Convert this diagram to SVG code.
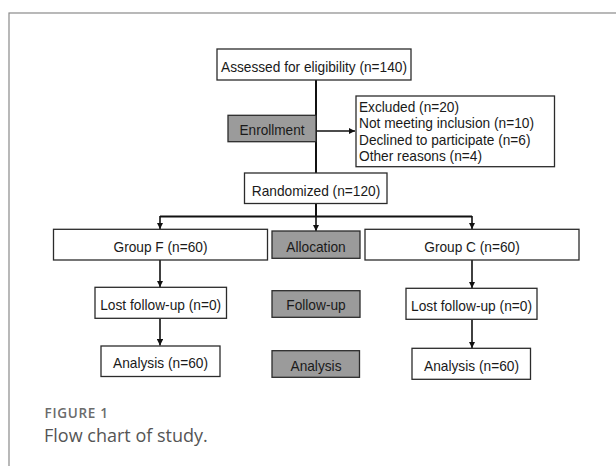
<svg xmlns="http://www.w3.org/2000/svg" width="616" height="466" viewBox="0 0 616 466">
<defs>
<style>
.box{fill:#fff;stroke:#2b2b2b;stroke-width:1.3}
.gray{fill:#9b9b9b;stroke:#2b2b2b;stroke-width:1.3}
.t{font-family:"Liberation Sans",Arial,sans-serif;font-size:14.5px;fill:#1a1a1a;text-anchor:middle}
.tl{font-family:"Liberation Sans",Arial,sans-serif;font-size:14.5px;fill:#1a1a1a}
.ln{fill:none;stroke:#111;stroke-width:2}
.ar{fill:none;stroke:#111;stroke-width:1.6}
</style>
<marker id="ah" viewBox="0 0 10 10" refX="10" refY="5" markerWidth="4" markerHeight="4" orient="auto" markerUnits="strokeWidth">
<path d="M0,0 L10,5 L0,10 z" fill="#111"/>
</marker>
</defs>
<rect x="0" y="0" width="616" height="466" fill="#fff"/>
<rect x="9" y="13" width="640" height="500" fill="none" stroke="#8a8a8a" stroke-width="1.2"/>

<g id="connectors">
<path class="ln" d="M316,80 V173"/>
<path class="ar" d="M316,131 H355" marker-end="url(#ah)"/>
<path class="ln" d="M316,203.5 V216.5 M160,216.5 H472"/>
<path class="ar" d="M160,216 V229" marker-end="url(#ah)"/>
<path class="ar" d="M316,216 V231" marker-end="url(#ah)"/>
<path class="ar" d="M472,216 V229" marker-end="url(#ah)"/>
<path class="ar" d="M160,260 V287" marker-end="url(#ah)"/>
<path class="ar" d="M472,260 V288" marker-end="url(#ah)"/>
<path class="ar" d="M160,318.5 V345.5" marker-end="url(#ah)"/>
<path class="ar" d="M472,319.5 V348" marker-end="url(#ah)"/>
</g>

<g id="assessed">
<rect class="box" x="217" y="49" width="194" height="31"/>
<text class="t" x="314" y="71.5" textLength="186" lengthAdjust="spacingAndGlyphs">Assessed for eligibility (n=140)</text>
</g>
<g id="enrollment">
<rect class="gray" x="228" y="115.3" width="88" height="26.4"/>
<text class="t" x="272" y="135" textLength="65" lengthAdjust="spacingAndGlyphs">Enrollment</text>
</g>
<g id="excluded">
<rect class="box" x="356" y="96" width="198.5" height="70.7"/>
<text class="tl" x="359" y="111.7" textLength="100" lengthAdjust="spacingAndGlyphs">Excluded (n=20)</text>
<text class="tl" x="359" y="128" textLength="175" lengthAdjust="spacingAndGlyphs">Not meeting inclusion (n=10)</text>
<text class="tl" x="359" y="144.5" textLength="171.5" lengthAdjust="spacingAndGlyphs">Declined to participate (n=6)</text>
<text class="tl" x="359" y="161" textLength="123" lengthAdjust="spacingAndGlyphs">Other reasons (n=4)</text>
</g>
<g id="randomized">
<rect class="box" x="244.5" y="173" width="142.5" height="30.5"/>
<text class="t" x="316" y="195.5" textLength="128.5" lengthAdjust="spacingAndGlyphs">Randomized (n=120)</text>
</g>
<g id="groupF">
<rect class="box" x="53.5" y="229.3" width="214" height="30.7"/>
<text class="t" x="160.5" y="251.5" textLength="94" lengthAdjust="spacingAndGlyphs">Group F (n=60)</text>
</g>
<g id="allocation">
<rect class="gray" x="272" y="231" width="88" height="27.3"/>
<text class="t" x="316" y="251.5" textLength="59.5" lengthAdjust="spacingAndGlyphs">Allocation</text>
</g>
<g id="groupC">
<rect class="box" x="365" y="229.3" width="214" height="30.7"/>
<text class="t" x="472" y="251.5" textLength="95.5" lengthAdjust="spacingAndGlyphs">Group C (n=60)</text>
</g>
<g id="lostF">
<rect class="box" x="95" y="287.3" width="131.5" height="31"/>
<text class="t" x="160.7" y="310" textLength="121" lengthAdjust="spacingAndGlyphs">Lost follow-up (n=0)</text>
</g>
<g id="followup">
<rect class="gray" x="272" y="290.7" width="88" height="26.6"/>
<text class="t" x="316" y="310" textLength="59.5" lengthAdjust="spacingAndGlyphs">Follow-up</text>
</g>
<g id="lostC">
<rect class="box" x="406" y="288.3" width="131" height="31"/>
<text class="t" x="471.5" y="310.5" textLength="121" lengthAdjust="spacingAndGlyphs">Lost follow-up (n=0)</text>
</g>
<g id="analysisF">
<rect class="box" x="101" y="346" width="119" height="30.5"/>
<text class="t" x="160.5" y="368" textLength="95" lengthAdjust="spacingAndGlyphs">Analysis (n=60)</text>
</g>
<g id="analysis">
<rect class="gray" x="272" y="350.7" width="87.5" height="26.6"/>
<text class="t" x="316" y="370.5" textLength="51" lengthAdjust="spacingAndGlyphs">Analysis</text>
</g>
<g id="analysisC">
<rect class="box" x="412" y="348.3" width="118.5" height="31"/>
<text class="t" x="471.5" y="370.5" textLength="95" lengthAdjust="spacingAndGlyphs">Analysis (n=60)</text>
</g>

<text x="44.5" y="418" font-family="'Open Sans',sans-serif" font-size="13.5" font-weight="600" fill="#6b6b6b" letter-spacing="0.7">FIGURE 1</text>
<text x="44" y="441.5" font-family="'Open Sans',sans-serif" font-size="18" fill="#555">Flow chart of study.</text>
</svg>
